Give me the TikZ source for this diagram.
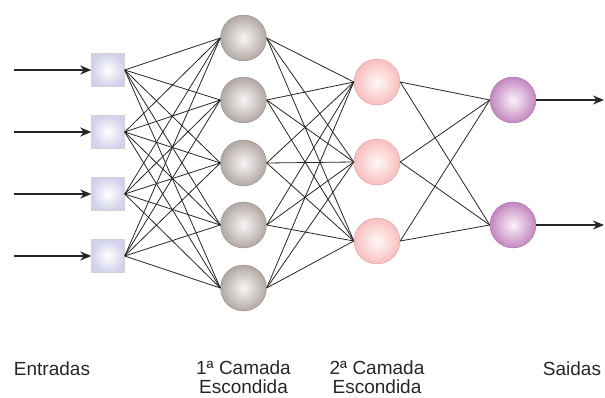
\documentclass[tikz,border=0pt]{standalone}
\usepackage{fontspec}
\setmainfont{Liberation Sans}
\usepackage{tikz}
\usetikzlibrary{arrows.meta}

\definecolor{inlav}{RGB}{210,210,236}
\definecolor{taupe}{RGB}{178,168,163}
\definecolor{rosa}{RGB}{248,190,190}
\definecolor{malva}{RGB}{196,134,192}

\begin{document}
\begin{tikzpicture}[x=1pt, y=-1pt,
  >={Stealth[length=11pt,width=9pt]},
  inp/.style={rectangle, draw=gray!35, line width=0.5pt, minimum size=33pt, inner sep=0pt,
              shading=radial, inner color=white, outer color=inlav},
  neuron/.style={circle, minimum size=46pt, inner sep=0pt, line width=0.4pt,
              shading=radial, inner color=#1!10, outer color=#1, draw=#1!85!black},
  link/.style={line width=0.8pt, black!85},
  wire/.style={->, line width=2.2pt, black!85},
  lab/.style={font=\fontsize{19}{19}\selectfont, text=black!85, anchor=base, align=center}
]
\useasboundingbox (0,0) rectangle (605,398);

% layers
\foreach \i/\y in {1/70,2/132,3/194,4/256} {
  \node[inp] (in\i) at (108,\y) {};
  \coordinate (s\i) at (14,\y);
}
\foreach \i/\y in {1/38,2/100,3/163,4/225,5/288}
  \node[neuron=taupe] (ha\i) at (243.5,\y) {};
\foreach \i/\y in {1/82,2/162,3/241}
  \node[neuron=rosa] (hb\i) at (377,\y) {};
\foreach \i/\y in {1/100,2/225} {
  \node[neuron=malva] (out\i) at (513,\y) {};
  \coordinate (e\i) at (604,\y);
}

% weights between layers
\foreach \i in {1,...,4}
  \foreach \j in {1,...,5}
    \draw[link] (in\i.east) -- (ha\j.west);
\foreach \i in {1,...,5}
  \foreach \j in {1,...,3}
    \draw[link] (ha\i.east) -- (hb\j.west);
\foreach \i in {1,...,3}
  \foreach \j in {1,2}
    \draw[link] (hb\i.east) -- (out\j.west);

% inputs and outputs
\foreach \i in {1,...,4}
  \draw[wire] (s\i) -- (in\i.west);
\foreach \i in {1,2}
  \draw[wire] (out\i.east) -- (e\i);

% layer names (base = last line)
\node[lab] (lin)  at (52,375)    {Entradas};
\node[lab] (lh1)  at (243.5,393) {1ª Camada\\Escondida};
\node[lab] (lh2)  at (377,393)   {2ª Camada\\Escondida};
\node[lab] (lout) at (572,375)   {Saidas};
\end{tikzpicture}
\end{document}
